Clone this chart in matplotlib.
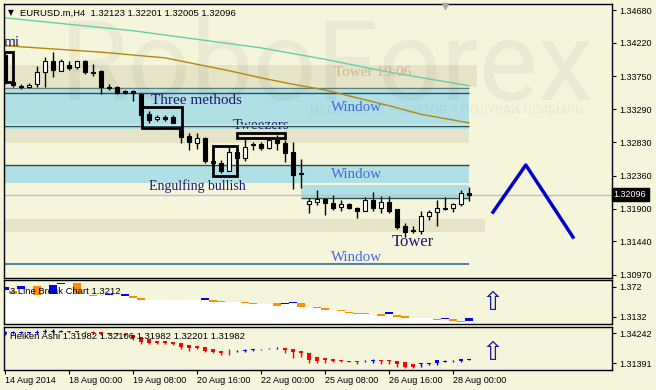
import matplotlib
matplotlib.use('Agg')
import matplotlib.pyplot as plt
import matplotlib.transforms as mtransforms
from matplotlib.patches import Rectangle
import numpy as np

plt.rcParams['font.family'] = ['Liberation Sans', 'DejaVu Sans']

# ---- main chart: EURUSD H4 candles (bar index 0 = 14 Aug 16:00)
c_open = [1.3405, 1.3367, 1.3362, 1.3360, 1.3364, 1.3381, 1.3397, 1.3383, 1.3391, 1.3388,
          1.3397, 1.3381, 1.3383, 1.3360, 1.3360, 1.3355, 1.3355, 1.3350, 1.3322, 1.3315,
          1.3318, 1.3318, 1.3300, 1.3292, 1.3282, 1.3289, 1.3257, 1.3254, 1.3243, 1.3269,
          1.3261, 1.3280, 1.3280, 1.3275, 1.3286, 1.3282, 1.3269, 1.3240, 1.3196, 1.3199,
          1.3203, 1.3198, 1.3192, 1.3197, 1.3191, 1.3187, 1.3202, 1.3191, 1.3199, 1.3189,
          1.3166, 1.3160, 1.3159, 1.3180, 1.3185, 1.3191, 1.3191, 1.3196, 1.32123]
c_high = [1.3408, 1.3369, 1.3364, 1.3366, 1.3390, 1.3402, 1.3409, 1.3399, 1.3397, 1.3397,
          1.3398, 1.3392, 1.3384, 1.3364, 1.3361, 1.3356, 1.3356, 1.3352, 1.3327, 1.3321,
          1.3321, 1.3321, 1.3303, 1.3296, 1.3296, 1.3290, 1.3259, 1.3258, 1.3276, 1.3276,
          1.3290, 1.3283, 1.3283, 1.3289, 1.3293, 1.3286, 1.3283, 1.3259, 1.3205, 1.3216,
          1.3205, 1.3209, 1.3202, 1.3198, 1.3192, 1.3206, 1.3213, 1.3208, 1.3208, 1.3189,
          1.3170, 1.3166, 1.3187, 1.3188, 1.3202, 1.3206, 1.3198, 1.3216, 1.32201]
c_low = [1.3364, 1.3360, 1.3357, 1.3359, 1.3360, 1.3360, 1.3374, 1.3383, 1.3384, 1.3385,
         1.3378, 1.3376, 1.3350, 1.3356, 1.3351, 1.3350, 1.3341, 1.3314, 1.3310, 1.3313,
         1.3313, 1.3310, 1.3282, 1.3272, 1.3273, 1.3254, 1.3253, 1.3240, 1.3242, 1.3261,
         1.3257, 1.3272, 1.3272, 1.3274, 1.3272, 1.3255, 1.3217, 1.3219, 1.3184, 1.3195,
         1.3181, 1.3188, 1.3187, 1.3190, 1.3177, 1.3186, 1.3186, 1.3184, 1.3184, 1.3161,
         1.3150, 1.3156, 1.3154, 1.3174, 1.3166, 1.3188, 1.3185, 1.3194, 1.32005]
c_close = [1.3367, 1.3363, 1.3360, 1.3363, 1.3381, 1.3397, 1.3384, 1.3397, 1.3387, 1.3397,
           1.3381, 1.3380, 1.3360, 1.3359, 1.3352, 1.3352, 1.3352, 1.3321, 1.3314, 1.3318,
           1.3315, 1.3310, 1.3290, 1.3283, 1.3289, 1.3257, 1.3254, 1.3243, 1.3269, 1.3261,
           1.3276, 1.3279, 1.3275, 1.3286, 1.3282, 1.3268, 1.3237, 1.3238, 1.3201, 1.3203,
           1.3198, 1.3191, 1.3196, 1.3191, 1.3187, 1.3202, 1.3191, 1.3199, 1.3187, 1.3164,
           1.3157, 1.3159, 1.3180, 1.3185, 1.3191, 1.3190, 1.3196, 1.3212, 1.32096]

# moving averages (sampled at bar index)
ma_fast_idx = [0, 4, 8, 12, 16, 20, 24, 28, 32, 36, 40, 44, 48, 52, 58]
ma_fast = [1.3418, 1.3415, 1.3412, 1.3409, 1.3405, 1.3401, 1.3392, 1.3383, 1.3373,
           1.3364, 1.3356, 1.3345, 1.3334, 1.3322, 1.3310]
ma_slow_idx = [0, 8, 16, 24, 32, 40, 48, 58]
ma_slow = [1.3457, 1.3448, 1.3439, 1.3427, 1.3415, 1.3399, 1.3381, 1.3362]

forecast_idx = [61, 65.1, 71]
forecast = [1.3185, 1.3251, 1.3150]

# ---- 3 Line Break blocks
lb_idx = [0, 1, 2, 4, 6, 7, 9, 11, 13, 15, 16, 17, 25, 26, 27, 30, 31, 34, 35, 36, 37,
          39, 40, 42, 43, 44, 45, 47, 48, 49, 50, 54, 55, 56, 57, 58]
lb_top = [1.3720, 1.3642, 1.3740, 1.3740, 1.3759, 1.3798, 1.3798, 1.3563, 1.3583, 1.3583,
          1.3544, 1.3504, 1.3504, 1.3465, 1.3446, 1.3426, 1.3406, 1.3406, 1.3406, 1.3426,
          1.3406, 1.3328, 1.3308, 1.3269, 1.3230, 1.3210, 1.3210, 1.3191, 1.3230, 1.3171,
          1.3152, 1.3093, 1.3112, 1.3093, 1.3054, 1.3112]
lb_bot = [1.3661, 1.3583, 1.3681, 1.3563, 1.3583, 1.3779, 1.3583, 1.3544, 1.3563, 1.3544,
          1.3504, 1.3465, 1.3465, 1.3426, 1.3426, 1.3406, 1.3387, 1.3348, 1.3387, 1.3406,
          1.3328, 1.3308, 1.3269, 1.3250, 1.3210, 1.3191, 1.3191, 1.3152, 1.3191, 1.3132,
          1.3112, 1.3073, 1.3093, 1.3054, 1.3034, 1.3054]
lb_up = [1, 0, 1, 0, 1, 1, 0, 0, 1, 1, 0, 0, 1, 0, 0, 0, 0, 0, 1, 1, 0,
         0, 0, 0, 0, 0, 0, 0, 1, 0, 0, 0, 1, 0, 0, 1]

# ---- Heiken Ashi
ha_open = [1.3415, 1.3424, 1.3424, 1.3424, 1.3424, 1.3429, 1.3434, 1.3434, 1.3439, 1.3434,
           1.3434, 1.3434, 1.3429, 1.3424, 1.3420, 1.3415, 1.3405, 1.3386, 1.3367, 1.3348,
           1.3344, 1.3339, 1.3329, 1.3310, 1.3301, 1.3291, 1.3272, 1.3253, 1.3244, 1.3249,
           1.3253, 1.3263, 1.3268, 1.3272, 1.3277, 1.3282, 1.3272, 1.3253, 1.3234, 1.3196,
           1.3187, 1.3177, 1.3168, 1.3154, 1.3158, 1.3154, 1.3158, 1.3163, 1.3163, 1.3158,
           1.3149, 1.3130, 1.3130, 1.3130, 1.3139, 1.3149, 1.3154, 1.3158, 1.3168]
ha_close = [1.3434, 1.3434, 1.3434, 1.3429, 1.3434, 1.3443, 1.3443, 1.3443, 1.3429, 1.3439,
            1.3429, 1.3424, 1.3415, 1.3415, 1.3410, 1.3405, 1.3377, 1.3339, 1.3329, 1.3329,
            1.3329, 1.3320, 1.3291, 1.3282, 1.3282, 1.3253, 1.3244, 1.3234, 1.3239, 1.3253,
            1.3263, 1.3272, 1.3272, 1.3274, 1.3282, 1.3263, 1.3244, 1.3234, 1.3168, 1.3158,
            1.3168, 1.3158, 1.3158, 1.3149, 1.3149, 1.3158, 1.3163, 1.3158, 1.3158, 1.3130,
            1.3101, 1.3101, 1.3135, 1.3139, 1.3168, 1.3158, 1.3158, 1.3173, 1.3177]
ha_high = [1.3443, 1.3443, 1.3443, 1.3434, 1.3453, 1.3462, 1.3462, 1.3453, 1.3443, 1.3443,
           1.3439, 1.3443, 1.3434, 1.3424, 1.3424, 1.3415, 1.3405, 1.3386, 1.3367, 1.3348,
           1.3348, 1.3339, 1.3329, 1.3310, 1.3301, 1.3291, 1.3272, 1.3253, 1.3272, 1.3263,
           1.3272, 1.3272, 1.3272, 1.3282, 1.3291, 1.3282, 1.3272, 1.3253, 1.3234, 1.3196,
           1.3187, 1.3177, 1.3168, 1.3154, 1.3158, 1.3168, 1.3177, 1.3168, 1.3168, 1.3158,
           1.3149, 1.3130, 1.3139, 1.3139, 1.3168, 1.3163, 1.3163, 1.3177, 1.3177]
ha_low = [1.3405, 1.3415, 1.3415, 1.3415, 1.3415, 1.3424, 1.3424, 1.3434, 1.3424, 1.3429,
          1.3424, 1.3415, 1.3405, 1.3405, 1.3405, 1.3400, 1.3358, 1.3320, 1.3320, 1.3320,
          1.3320, 1.3310, 1.3272, 1.3253, 1.3272, 1.3244, 1.3234, 1.3215, 1.3215, 1.3239,
          1.3244, 1.3253, 1.3263, 1.3268, 1.3268, 1.3234, 1.3187, 1.3196, 1.3139, 1.3139,
          1.3139, 1.3149, 1.3149, 1.3149, 1.3130, 1.3149, 1.3139, 1.3130, 1.3130, 1.3101,
          1.3092, 1.3092, 1.3101, 1.3116, 1.3120, 1.3144, 1.3149, 1.3149, 1.3168]

time_idx = [0, 8, 16, 24, 32, 40, 48, 56]
time_labels = ['14 Aug 2014', '18 Aug 00:00', '19 Aug 08:00', '20 Aug 16:00',
               '22 Aug 00:00', '25 Aug 08:00', '26 Aug 16:00', '28 Aug 00:00']
main_ticks = [1.34680, 1.34220, 1.33750, 1.33290, 1.32830, 1.32360, 1.31900, 1.31440, 1.30970]
lb_ticks = [1.372, 1.3132]
ha_ticks = [1.34242, 1.31391]
last_price = 1.32096

BG = '#f5f5dc'
BEIGE = '#e6e4c6'
WBLUE = '#b0e0e6'
NAVY = '#191970'
W, H = 656, 390

fig = plt.figure(figsize=(W / 100, H / 100), dpi=100, facecolor=BG)


def px_axes(top, bottom):
    return fig.add_axes([4 / W, 1 - bottom / H, 608 / W, (bottom - top) / H], facecolor=BG)


ax = px_axes(4, 278)
ax2 = px_axes(280, 324)
ax3 = px_axes(327, 370)
XL = (-0.125, 75.875)

for a in (ax, ax2, ax3):
    a.set_xlim(*XL)
    a.yaxis.tick_right()
    a.tick_params(axis='y', direction='out', length=3, width=0.8, pad=2, labelsize=6.5)
    a.tick_params(axis='x', bottom=False, labelbottom=False)
    for s in a.spines.values():
        s.set_color('black')
        s.set_linewidth(1)

ax.set_ylim(1.30928, 1.34764)
ax2.set_ylim(1.29948, 1.38572)
ax3.set_ylim(1.30727, 1.34812)

# ---- zones (blue windows under the beige bands so "Tweezers" is cut like the original)
def band(lo, hi, x0, x1, color, z):
    ax.add_patch(Rectangle((x0, lo), x1 - x0, hi - lo, facecolor=color, edgecolor='none', zorder=z))

band(1.3360, 1.3391, -1, 59, BEIGE, 1)
band(1.3302, 1.3362, -1, 58, WBLUE, 0.8)
band(1.3282, 1.3301, -1, 58, BEIGE, 1)
band(1.3226, 1.3251, -1, 58, WBLUE, 0.8)
band(1.3205, 1.3223, 37, 58, WBLUE, 0.8)
band(1.3157, 1.3175, -1, 60, BEIGE, 1)

for y, x0, c, lw in [(1.3359, -1, '#5f7f7f', 0.8), (1.3352, -1, '#2f4f4f', 1.0),
                     (1.3307, -1, 'white', 1.0), (1.3305, -1, '#2f4f4f', 1.0),
                     (1.3251, -1, '#2f4f4f', 1.0), (1.3205, 37, '#2f4f4f', 1.0),
                     (1.3112, -1, '#336b8c', 1.2)]:
    ax.plot([x0, 58], [y, y], color=c, lw=lw, zorder=1.5, solid_capstyle='butt')

ax.axhline(last_price, color='#c0c0c0', lw=1, zorder=1.6)

# watermark
ax.text(0.531, 0.65, 'RoboForex', transform=ax.transAxes, fontsize=80, color='black',
        alpha=0.045, ha='center', va='baseline', family=['Roboto', 'DejaVu Sans'], zorder=1.8)
ax.text(0.503, 0.613, 'ИСПОЛЬЗУЙ РОБОТОВ – ПОЛУЧАЙ ПРИБЫЛЬ', transform=ax.transAxes,
        fontsize=8.5, color='black', alpha=0.05, ha='left', va='center',
        family='DejaVu Sans', zorder=1.8)

# moving averages
ax.plot(ma_slow_idx, ma_slow, color='#66cdaa', lw=1, zorder=2)
ax.plot(ma_fast_idx, ma_fast, color='#b8860b', lw=1, zorder=2)

# candles
for k in range(len(c_open)):
    o, h, l, c = c_open[k], c_high[k], c_low[k], c_close[k]
    ax.plot([k, k], [l, h], color='black', lw=1, zorder=3, solid_capstyle='butt')
    lo, hi = min(o, c), max(o, c)
    if hi - lo < 0.00008:
        ax.plot([k - 0.3, k + 0.3], [o, o], color='black', lw=1.2, zorder=3.1)
    else:
        fc = 'black' if c < o else 'white'
        ax.add_patch(Rectangle((k - 0.3, lo), 0.6, hi - lo, facecolor=fc,
                               edgecolor='black', lw=0.8, zorder=3.1))

# pattern boxes
for x0, x1, lo, hi in [(-1, 1.0, 1.3367, 1.3409), (17.1, 22.1, 1.3303, 1.3332),
                       (29, 35, 1.3289, 1.3296), (26, 29, 1.3236, 1.3278)]:
    ax.add_patch(Rectangle((x0, lo), x1 - x0, hi - lo, facecolor='none',
                           edgecolor='black', lw=2, zorder=4))

# labels
serif = 'Liberation Serif'
ax.text(1.9, 1.3422, 'mi', color=NAVY, fontsize=11, family=serif, ha='right', va='center', zorder=5)
ax.text(23.9, 1.3342, 'Three methods', color=NAVY, fontsize=11, family=serif, ha='center', va='center', zorder=5)
ax.text(32, 1.3306, 'Tweezers', color=NAVY, fontsize=10.8, family=serif, ha='center', va='center', zorder=0.9)
ax.text(24.1, 1.3222, 'Engulfing bullish', color=NAVY, fontsize=10, family=serif, ha='center', va='center', zorder=5)
ax.text(51, 1.3143, 'Tower', color=NAVY, fontsize=12, family=serif, ha='center', va='center', zorder=5)
ax.text(46, 1.3380, 'Tower 19:06', color='#d2b48c', fontsize=11, family=serif, ha='center', va='center', zorder=5)
for y in (1.3331, 1.3237, 1.3122):
    ax.text(44, y, 'Window', color='#4169e1', fontsize=10.8, family=serif, ha='center', va='center', zorder=5)

# forecast zigzag
ax.plot(forecast_idx, forecast, color='#0000cd', lw=2.5, zorder=5)

ax.plot([55], [1.3474], marker='v', color='#a8a8a8', ms=5, clip_on=False, zorder=6)

ax.set_yticks(main_ticks)
ax.set_yticklabels(['%.5f' % v for v in main_ticks])
tr = mtransforms.blended_transform_factory(ax.transAxes, ax.transData)
ax.text(1.003, last_price, '%.5f' % last_price, transform=tr, color='white', fontsize=6.5,
        va='center', ha='left', zorder=10,
        bbox=dict(boxstyle='square,pad=0.25', facecolor='black', edgecolor='black'))

fig.text(8 / W, 1 - 13 / H, '▼', fontsize=5.5, va='center', ha='left', family='DejaVu Sans')
fig.text(20 / W, 1 - 13 / H, 'EURUSD.m,H4  1.32123 1.32201 1.32005 1.32096',
         fontsize=6.8, va='center', ha='left')

# ---- 3 line break panel
xs, ys = [XL[0]], [lb_bot[0]]
for k, b in zip(lb_idx, lb_bot):
    xs.append(k - 0.5)
    ys.append(b)
xs.append(58.5)
ys.append(lb_bot[-1])
ax2.fill_between(xs, ys, 1.2, step='post', color='white', zorder=1, lw=0)
for k, t, b, u in zip(lb_idx, lb_top, lb_bot, lb_up):
    ax2.add_patch(Rectangle((k - 0.5, b), 1.0, t - b, facecolor='#0000ff' if u else '#ff8c00',
                            edgecolor='none', zorder=2))
ax2.text(0.01, 0.75, '3 Line Break Chart 1.3212', transform=ax2.transAxes, fontsize=6.8,
         va='center', ha='left', zorder=5)
ax2.text(61, 1.3406, '⇧', color='#1a1aa0', fontsize=19, family='DejaVu Sans',
         ha='center', va='center', zorder=5)
ax2.set_yticks(lb_ticks)
ax2.set_yticklabels(['1.372', '1.3132'])

# ---- heiken ashi panel
for k in range(len(ha_open)):
    o, h, l, c = ha_open[k], ha_high[k], ha_low[k], ha_close[k]
    col = '#0000ff' if c >= o else '#ff0000'
    ax3.plot([k, k], [l, h], color=col, lw=1, zorder=3, solid_capstyle='butt')
    lo, hi = min(o, c), max(o, c)
    ax3.add_patch(Rectangle((k - 0.3, lo), 0.6, max(hi - lo, 0.0002), facecolor=col,
                            edgecolor='none', zorder=3.1))
ax3.text(0.01, 0.79, 'Heiken Ashi 1.31982 1.32106 1.31982 1.32201 1.31982',
         transform=ax3.transAxes, fontsize=6.8, va='center', ha='left', zorder=5)
ax3.text(61, 1.3234, '⇧', color='#1a1aa0', fontsize=19, family='DejaVu Sans',
         ha='center', va='center', zorder=5)
ax3.set_yticks(ha_ticks)
ax3.set_yticklabels(['%.5f' % v for v in ha_ticks])
ax3.set_xticks(time_idx)
ax3.set_xticklabels(time_labels, ha='left')
ax3.tick_params(axis='x', bottom=True, labelbottom=True, direction='out', length=3,
                width=0.8, pad=1.5, labelsize=6.5)

fig.savefig('out.png', dpi=100, facecolor=BG)
